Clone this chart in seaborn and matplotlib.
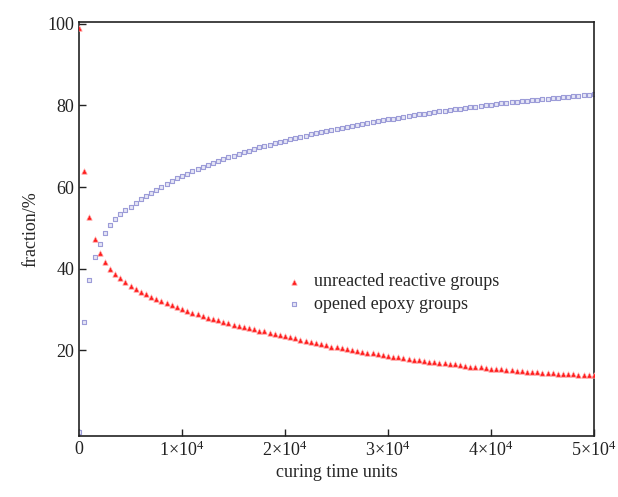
import seaborn as sns
import matplotlib.pyplot as plt
import pandas as pd

# curing time, one sample every 500 units
time_units = list(range(0, 50001, 500))

unreacted = [
    99.0, 64.0, 52.7, 47.2, 43.9, 41.6, 40.0, 38.7, 37.6, 36.7,
    35.8, 35.0, 34.3, 33.7, 33.1, 32.5, 32.0, 31.5, 31.0, 30.5,
    30.0, 29.6, 29.2, 28.8, 28.4, 28.0, 27.7, 27.3, 27.0, 26.7,
    26.3, 26.0, 25.7, 25.4, 25.1, 24.8, 24.6, 24.3, 24.0, 23.8,
    23.5, 23.2, 22.9, 22.6, 22.3, 22.0, 21.7, 21.5, 21.2, 20.9,
    20.7, 20.5, 20.3, 20.0, 19.8, 19.6, 19.4, 19.2, 19.0, 18.8,
    18.6, 18.4, 18.3, 18.1, 17.9, 17.7, 17.6, 17.4, 17.2, 17.1,
    16.9, 16.8, 16.6, 16.5, 16.3, 16.2, 16.0, 15.9, 15.8, 15.6,
    15.5, 15.4, 15.3, 15.2, 15.05, 14.95, 14.85, 14.75, 14.65, 14.55,
    14.45, 14.35, 14.3, 14.2, 14.15, 14.1, 14.05, 14.0, 13.95, 13.9,
    13.85,
]

opened_epoxy = [
    0.0, 27.0, 37.2, 42.8, 46.1, 48.8, 50.7, 52.1, 53.3, 54.3,
    55.2, 56.1, 57.0, 57.8, 58.6, 59.4, 60.1, 60.8, 61.5, 62.1,
    62.7, 63.3, 63.9, 64.4, 64.9, 65.4, 65.9, 66.4, 66.8, 67.3,
    67.7, 68.1, 68.5, 68.9, 69.3, 69.7, 70.0, 70.4, 70.7, 71.1,
    71.4, 71.7, 72.0, 72.3, 72.6, 72.9, 73.2, 73.5, 73.7, 74.0,
    74.3, 74.5, 74.8, 75.0, 75.3, 75.5, 75.7, 76.0, 76.2, 76.4,
    76.6, 76.8, 77.0, 77.2, 77.4, 77.6, 77.8, 78.0, 78.2, 78.4,
    78.6, 78.7, 78.9, 79.1, 79.2, 79.4, 79.6, 79.7, 79.9, 80.0,
    80.2, 80.3, 80.5, 80.6, 80.8, 80.9, 81.0, 81.2, 81.3, 81.4,
    81.6, 81.7, 81.8, 81.9, 82.0, 82.2, 82.3, 82.4, 82.5, 82.6,
    82.7,
]

x_ticks = [0, 10000, 20000, 30000, 40000, 50000]
x_tick_labels = ['0', '1×10$^{4}$', '2×10$^{4}$', '3×10$^{4}$', '4×10$^{4}$', '5×10$^{4}$']
y_ticks = [20, 40, 60, 80, 100]

df = pd.DataFrame({'time': time_units, 'unreacted': unreacted, 'opened': opened_epoxy})

sns.set_style('ticks')
plt.rcParams['font.family'] = ['Liberation Serif', 'DejaVu Serif']
plt.rcParams['mathtext.fontset'] = 'custom'
plt.rcParams['mathtext.rm'] = 'Liberation Serif'
plt.rcParams['mathtext.it'] = 'Liberation Serif:italic'

fig = plt.figure(figsize=(6.18, 4.97), dpi=100)
ax = fig.add_axes([0.128, 0.123, 0.833, 0.833])

sns.scatterplot(data=df, x='time', y='unreacted', ax=ax, marker='^', s=15,
                color='#ff1c1c', edgecolor='#ffa0a0', linewidth=0.5,
                label='unreacted reactive groups', zorder=3)
sns.scatterplot(data=df, x='time', y='opened', ax=ax, marker='s', s=9,
                color='#e6e6f6', edgecolor='#9c9cd8', linewidth=0.8,
                label='opened epoxy groups', zorder=2)

ax.set_xlim(0, 50000)
ax.set_ylim(-1, 100.5)
ax.set_xticks(x_ticks)
ax.set_xticklabels(x_tick_labels)
ax.set_yticks(y_ticks)
ax.tick_params(direction='in', length=5, width=1, labelsize=13, colors='#222222')
for sp in ax.spines.values():
    sp.set_linewidth(1.2)
    sp.set_color('#222222')

ax.set_xlabel('curing time units', fontsize=13, labelpad=3)
ax.set_ylabel('fraction/%', fontsize=13, labelpad=6)

ax.legend(loc='upper left', bbox_to_anchor=(0.372, 0.423), frameon=False,
          fontsize=13, handlelength=1.2, handletextpad=0.5, labelspacing=0.3,
          markerscale=1.0, borderpad=0.2)

plt.savefig('out.png', dpi=100)
